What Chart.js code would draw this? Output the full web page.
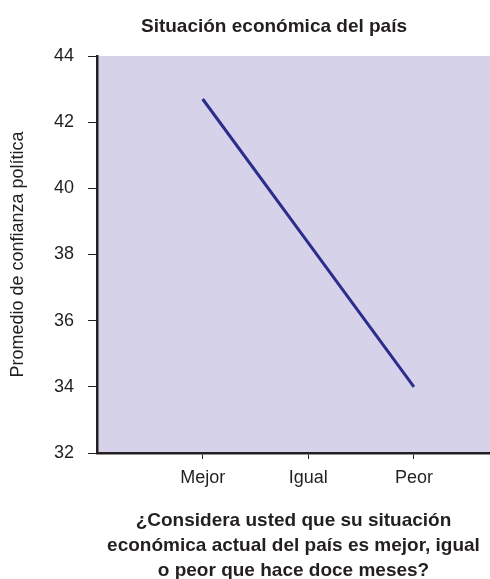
<!DOCTYPE html>
<html>
<head>
<meta charset="utf-8">
<script src="https://cdn.jsdelivr.net/npm/chart.js@4"></script>
<style>
  html, body { margin: 0; padding: 0; background: #ffffff; }
  #wrap { width: 490px; height: 579px; position: relative; }
</style>
</head>
<body>
<div id="wrap"><canvas id="c" width="490" height="579"></canvas></div>
<script>
// ---- data ----
const chartTitle = 'Situación económica del país';
const categories = ['Mejor', 'Igual', 'Peor'];
const confianza = [42.7, 38.35, 34.0];
const yTicks = [32, 34, 36, 38, 40, 42, 44];
const yAxisTitle = 'Promedio de confianza política';
const xAxisTitle = ['¿Considera usted que su situación', 'económica actual del país es mejor, igual', 'o peor que hace doce meses?'];

const FONT = "'Liberation Sans', Arial, Helvetica, sans-serif";
const INK = '#231f20';

const bgPlugin = {
  id: 'plotBg',
  beforeDraw(chart) {
    const {ctx, chartArea: a} = chart;
    ctx.save();
    ctx.fillStyle = '#d5d2e9';
    ctx.fillRect(a.left, a.top, a.right - a.left, a.bottom - a.top);
    ctx.restore();
  }
};

const titlePlugin = {
  id: 'topTitle',
  afterDraw(chart) {
    const {ctx} = chart;
    ctx.save();
    ctx.fillStyle = INK;
    ctx.textAlign = 'center';
    ctx.textBaseline = 'middle';
    ctx.font = "bold 19px " + FONT;
    ctx.fillText(chartTitle, 274, 27);
    ctx.restore();
  }
};

const points = categories.map((c, i) => ({x: i + 1, y: confianza[i]}));

new Chart(document.getElementById('c'), {
  type: 'line',
  data: {
    datasets: [{
      data: points,
      borderColor: '#2b2d8c',
      borderWidth: 3,
      pointRadius: 0,
      tension: 0,
      fill: false
    }]
  },
  options: {
    responsive: false,
    animation: false,
    layout: { padding: { top: 56, left: 0, right: 0, bottom: 0 } },
    plugins: { legend: { display: false }, tooltip: { enabled: false }, title: { display: false } },
    scales: {
      x: {
        type: 'linear',
        min: 0,
        max: 3.72,
        afterBuildTicks(scale) { scale.ticks = categories.map((c, i) => ({value: i + 1})); },
        afterFit(scale) { scale.height = 126; },
        ticks: {
          callback: (v) => categories[v - 1] ?? '',
          color: INK,
          font: { family: FONT, size: 18 },
          padding: 8,
          maxRotation: 0,
          autoSkip: false
        },
        grid: { drawOnChartArea: false, drawTicks: true, tickLength: 6, color: INK, tickWidth: 1 },
        border: { display: true, color: INK, width: 2.5 },
        title: {
          display: true,
          text: xAxisTitle,
          color: INK,
          font: { family: FONT, size: 19, weight: 'bold', lineHeight: 1.32 },
          padding: { top: 0, bottom: -4.5 }
        }
      },
      y: {
        min: 32,
        max: 44,
        afterBuildTicks(scale) { scale.ticks = yTicks.map(v => ({value: v})); },
        afterFit(scale) { scale.width = 97; },
        ticks: {
          color: INK,
          font: { family: FONT, size: 18 },
          padding: 14
        },
        grid: { drawOnChartArea: false, drawTicks: true, tickLength: 9, color: INK, tickWidth: 1 },
        border: { display: true, color: INK, width: 2.5 },
        title: {
          display: true,
          text: yAxisTitle,
          color: INK,
          font: { family: FONT, size: 18, lineHeight: 1.2 },
          padding: { top: 7, bottom: 0 }
        }
      }
    }
  },
  plugins: [bgPlugin, titlePlugin]
});
</script>
</body>
</html>
